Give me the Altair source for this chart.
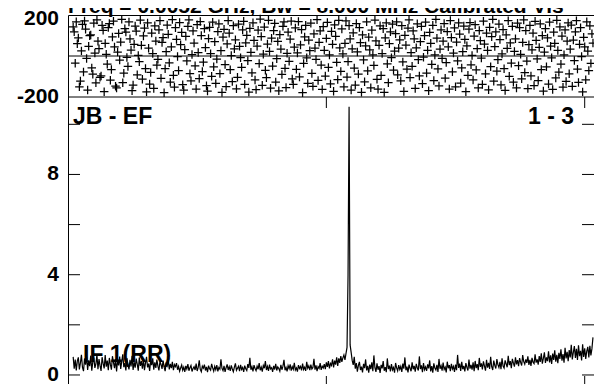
import altair as alt
import pandas as pd

# ---------------- data ----------------
title_text = "Freq = 0.0052 GHz, Bw = 8.000 MHz   Calibrated Vis"
baseline_label = "JB - EF"
stokes_label = "1 - 3"
if_label = "IF 1(RR)"

phase_vals = [
    142, 118, -35, 167, 60, 88, -150, -122, 25, 154, -78, 171, 131, -12, -166, 47, 99, 103, -58, -89, 160, 14, -131, 176,
    72, 36, -104, -97, 150, 125, -174, 61, 8, -40, 139, 158, -118, -66, 93, 170, 44, -147, -156, 19, 110, -20, 68, 179,
    -130, -84, 133, 117, -7, -51, 166, 84, 29, -169, -142, 57, 146, 121, -92, 3, -28, 175, 52, -113, 98, 136, -61, -175,
    161, 38, -137, -80, 112, 12, -158, 147, 73, -45, -16, 128, 172, -109, 66, 90, -179, -62, 21, 151, 106, -33, -128, 45,
    178, -94, -152, 138, 81, -3, -71, 163, 55, 115, -140, -167, 31, 96, -24, 144, 176, -86, -121, 7, 122, 63, -48, -161,
    153, 17, -110, 168, 100, -76, -30, 134, 41, -145, -171, 85, 140, 11, -99, 165, -53, 70, -134, -15, 119, 157, -86, 26,
    -178, 92, 130, -42, -149, 59, 173, 111, -67, 2, -125, 148, 35, 79, -160, -104, 155, 47, -8, -55, 127, 169, -138, 64,
    101, -23, -176, 135, 18, -82, 162, 76, -117, -164, 48, 126, -37, 180, 95, -143, 9, 141, -70, -106, 58, 174, 22, -157,
    87, -49, 124, 159, -127, -13, 71, -170, 104, 34, -90, 145, 166, -60, -154, 13, 116, -26, 82, 170, -112, -139, 43, 137,
    -65, 15, 168, -102, 54, 129, -179, -36, 93, 150, -9, -133, 77, 26, 160, -85, -148, 108, 39, -17, 177, -119, 67, 123,
    -44, -163, 143, 28, -98, 86, 164, -56, 5, -136, 120, 57, -172, 152, 96, -31, -115, 174, 40, -75, 132, 10, -151, 61,
    171, -103, -27, 148, 83, -166, 35, 113, -59, -142, 158, 20, -88, 139, 65, -177, 103, -19, -126, 49, 167, -72, 92, 30,
    -155, 126, 6, -46, 175, 74, -114, -162, 52, 147, -95, 12, 133, -178, 89, 162, -38, -130, 60, 118, -8, 155, -69, 24,
    109, 167, -92, 38, 79, -121, 148, -29, -173, 101, 53, -64, 136, 176, -105, 16, -50, 123, 84, -158, 40, 157, -18, -97,
    70, 144, -135, -6, 99, 165, -83, 28, -169, 115, 62, -41, 150, -120, 5, 179, 87, -63, -146, 34, 128, -11, 72, 158,
    -108, -32, 119, 45, -161, 173, 90, -77, 14, 137, -150, 68, -24, 162, 107, -132, -58, 21, 146, 81, -174, 50, -94, 131,
    163, -43, 3, -117, 97, 153, -68, 36, -156, 124, 75, -10, -139, 170, 58, -87, 112, 27, -165, 140, -52, 94, 179, -123,
    46, 118, -74, -18, 156, 80, -141, 10, 129, -62, -168, 103, 37, 172, -99, 64, -35, 145, -128, 22, 84, -156, 160, -47,
    138, 8, -111, 66, 176, -81, 124, -25, -159, 55, 149, -97, 30, 111, -144, 169, 76, -14, -120, 42, 157, -66, 100, -171,
    19, 134, -53, 88, -137, 165, 48, -9, -163, 116, 61, -107, 174, 27, -79, 142, -40, 97, -152, 6, 127, -124, 73, 161,
    -87, 33, 151, -148, 78, -22, 118, 172, -64, -129, 57, 138, -3, -175, 91, 45, -116, 167, 24, -71, 147, -36, 108, 63,
]
phase_first_channel = 5

amp_before = [
    0.72, 0.25, 0.61, 0.18, 0.55, 0.70, 0.22, 0.48, 0.80, 0.30, 0.15, 0.66, 0.41, 0.74, 0.20, 0.58, 0.35, 0.77, 0.17, 0.52, 0.69, 0.28, 0.44, 0.81,
    0.23, 0.63, 0.37, 0.16, 0.71, 0.46, 0.26, 0.79, 0.33, 0.57, 0.19, 0.68, 0.42, 0.21, 0.75, 0.50, 0.27, 0.64, 0.14, 0.59, 0.38, 0.73, 0.24, 0.53,
    0.82, 0.31, 0.47, 0.18, 0.67, 0.40, 0.22, 0.60, 0.34, 0.76, 0.20, 0.51, 0.29, 0.65, 0.43, 0.17, 0.70, 0.36, 0.55, 0.25, 0.62, 0.19, 0.48, 0.72,
    0.30, 0.45, 0.16, 0.58, 0.39, 0.66, 0.21, 0.50, 0.28, 0.61, 0.35, 0.18, 0.54, 0.42, 0.24, 0.57, 0.32, 0.15, 0.49, 0.37, 0.60, 0.22, 0.44, 0.27,
    0.52, 0.19, 0.41, 0.33, 0.47, 0.21,
    0.34, 0.15, 0.28, 0.40, 0.19, 0.31, 0.12, 0.36, 0.24, 0.43, 0.17, 0.29, 0.38, 0.14, 0.26, 0.33, 0.20, 0.45, 0.16, 0.30, 0.58, 0.22, 0.13, 0.35,
    0.27, 0.41, 0.18, 0.32, 0.11, 0.37, 0.25, 0.19, 0.44, 0.28, 0.15, 0.34, 0.21, 0.39, 0.14, 0.30, 0.23, 0.62, 0.26, 0.17, 0.36, 0.12, 0.29, 0.42,
    0.20, 0.33, 0.16, 0.38, 0.24, 0.13, 0.31, 0.46, 0.19, 0.27, 0.35, 0.15, 0.40, 0.22, 0.30, 0.12, 0.37, 0.25, 0.18, 0.43, 0.28, 0.68, 0.21, 0.33,
    0.14, 0.39, 0.26, 0.17, 0.35, 0.23, 0.47, 0.19, 0.31, 0.13, 0.38, 0.27, 0.55, 0.20, 0.34, 0.16, 0.41, 0.24, 0.29, 0.12, 0.36, 0.22, 0.44, 0.18,
    0.32, 0.26, 0.15, 0.40, 0.21, 0.35, 0.60, 0.19, 0.30, 0.14, 0.37, 0.25, 0.42, 0.17, 0.33, 0.23, 0.48, 0.20, 0.28, 0.13, 0.39, 0.26, 0.34, 0.18,
    0.45, 0.22, 0.31, 0.16, 0.52, 0.27, 0.36, 0.19, 0.41, 0.24, 0.30, 0.64, 0.21, 0.38, 0.15, 0.33, 0.26, 0.47, 0.20, 0.35, 0.28, 0.43, 0.23, 0.50,
    0.32, 0.55, 0.26, 0.46, 0.38, 0.62, 0.30, 0.57, 0.41, 0.70, 0.36, 0.66, 0.48, 0.75, 0.52, 0.68, 0.80, 0.60, 0.85,
]
amp_line = [1.10, 4.00, 10.70, 1.20, 0.90]
line_first_channel = 270
amp_after = [
    0.58, 0.40, 0.72, 0.25, 0.47, 0.13, 0.38, 0.52, 0.20, 0.33, 0.10, 0.44, 0.27, 0.62, 0.18, 0.36, 0.09, 0.41, 0.23, 0.50, 0.15, 0.78, 0.29, 0.12,
    0.46, 0.21, 0.35, 0.08, 0.40, 0.26, 0.55, 0.17, 0.31, 0.11, 0.66, 0.24, 0.37, 0.14, 0.43, 0.20, 0.30, 0.09, 0.48, 0.28, 0.16, 0.39, 0.22, 0.34,
    0.12, 0.45, 0.25, 0.70, 0.19, 0.33, 0.10, 0.41, 0.27, 0.15, 0.50, 0.23, 0.36, 0.13, 0.44, 0.29, 0.18, 0.74, 0.24, 0.38, 0.11, 0.47, 0.21, 0.32,
    0.16, 0.42, 0.26, 0.58, 0.14, 0.35, 0.09, 0.46, 0.28, 0.20, 0.40, 0.12, 0.64, 0.25, 0.37, 0.17, 0.49, 0.22, 0.31, 0.10, 0.53, 0.27, 0.39, 0.15,
    0.44, 0.24, 0.34, 0.12, 0.41, 0.19, 0.80, 0.28, 0.45, 0.16, 0.52, 0.23, 0.36, 0.14, 0.47, 0.30, 0.18, 0.61, 0.25, 0.40, 0.21, 0.50, 0.15, 0.56,
    0.27, 0.43, 0.19, 0.68, 0.32, 0.46, 0.22, 0.54, 0.35, 0.17, 0.60, 0.29, 0.48, 0.24, 0.72, 0.33, 0.20, 0.57, 0.38, 0.26, 0.63, 0.41, 0.30, 0.52,
    0.23, 0.66, 0.36, 0.28, 0.58, 0.44, 0.31, 0.76, 0.39, 0.55, 0.27, 0.64, 0.47, 0.33, 0.70, 0.42, 0.59, 0.35, 0.67, 0.50, 0.38, 0.79, 0.53, 0.43,
    0.62, 0.48, 0.74, 0.40, 0.60, 0.36, 0.68, 0.51, 0.45, 0.82, 0.49,
    0.62, 0.41, 0.75, 0.52, 0.86, 0.45, 0.66, 0.90, 0.48, 0.70, 0.55, 0.94, 0.50, 0.78, 0.44, 0.85, 0.60, 0.98, 0.53, 0.80, 0.47, 0.88, 0.64, 1.02,
    0.57, 0.83, 0.49, 1.08, 0.66, 0.92, 0.55, 0.99, 0.70, 1.20, 0.62, 0.90, 1.15, 0.68, 1.04, 0.60, 1.18, 0.75, 0.96, 0.58, 1.22, 0.72, 1.06, 0.64,
    0.95, 1.12, 0.70, 1.16, 0.78, 1.05, 1.50,
]

amp_label_values = [0, 4, 8]
amp_tick_values = [0, 2, 4, 6, 8, 10]
chan_major_ticks = [250, 500]

# ---------------- tables ----------------
df_phase = pd.DataFrame({
    "ch": list(range(phase_first_channel, phase_first_channel + len(phase_vals))),
    "phase": phase_vals,
})
amp_all = amp_before + amp_line + amp_after
amp_start = line_first_channel - len(amp_before)
df_amp = pd.DataFrame({"ch": list(range(amp_start, amp_start + len(amp_all))), "amp": amp_all})
df_alab = pd.DataFrame({"v": amp_label_values, "t": [str(v) for v in amp_label_values]})
df_atick = pd.DataFrame({"v": amp_tick_values})
df_xt = pd.DataFrame({"c": chan_major_ticks})

# ---------------- layout ----------------
# page must not be wider than the window (8px margins on both sides)
W, H = 526, 371
TOP_H = 82
FONT = "Liberation Sans"

xs = alt.Scale(domain=[0, 509], nice=False, zero=False)
ps = alt.Scale(domain=[-200, 200], range=[TOP_H, 0], nice=False, zero=False)
ams = alt.Scale(domain=[-0.44, 11.09], range=[H, TOP_H], nice=False, zero=False)

plus = "M-1,0L1,0M0,-1L0,1"

points = alt.Chart(df_phase).mark_point(
    shape=plus, size=72, filled=False, stroke="#000000", strokeWidth=1.25, opacity=1
).encode(
    x=alt.X("ch:Q", scale=xs, axis=None),
    y=alt.Y("phase:Q", scale=ps, axis=None),
)

def plabel(v, dy):
    return alt.Chart(pd.DataFrame({"v": [v], "t": [str(v)]})).mark_text(
        align="right", baseline="middle", font=FONT, fontSize=21, fontWeight="bold",
        color="black", dy=dy
    ).encode(
        x=alt.value(-9),
        y=alt.Y("v:Q", scale=ps, axis=None),
        text="t:N",
    )

phase_layer = alt.layer(points, plabel(200, 4), plabel(-200, 0))

amp_line_mark = alt.Chart(df_amp).mark_line(color="black", strokeWidth=1.2).encode(
    x=alt.X("ch:Q", scale=xs, axis=None),
    y=alt.Y("amp:Q", scale=ams, axis=None),
)
alabels = alt.Chart(df_alab).mark_text(
    align="right", baseline="middle", font=FONT, fontSize=21, fontWeight="bold", color="black"
).encode(
    x=alt.value(-9),
    y=alt.Y("v:Q", scale=ams, axis=None),
    text="t:N",
)
lticks = alt.Chart(df_atick).mark_rule(color="black", strokeWidth=1).encode(
    x=alt.value(0), x2=alt.value(12),
    y=alt.Y("v:Q", scale=ams, axis=None),
)
rticks = alt.Chart(df_atick).mark_rule(color="black", strokeWidth=1).encode(
    x=alt.value(W - 12), x2=alt.value(W),
    y=alt.Y("v:Q", scale=ams, axis=None),
)
amp_layer = alt.layer(amp_line_mark, alabels, lticks, rticks)

sep = alt.Chart(pd.DataFrame({"a": [0]})).mark_rule(color="black", strokeWidth=1).encode(
    y=alt.value(TOP_H)
)
zero_line = alt.Chart(pd.DataFrame({"a": [0]})).mark_rule(color="black", strokeWidth=1).encode(
    y=alt.value(TOP_H / 2)
)
xt_mid = alt.Chart(df_xt).mark_rule(color="black", strokeWidth=1).encode(
    x=alt.X("c:Q", scale=xs, axis=None), y=alt.value(TOP_H), y2=alt.value(TOP_H + 11)
)
xt_bot = alt.Chart(df_xt).mark_rule(color="black", strokeWidth=1).encode(
    x=alt.X("c:Q", scale=xs, axis=None), y=alt.value(H - 10), y2=alt.value(H)
)

def label(txt, x, y, align, baseline, size):
    return alt.Chart(pd.DataFrame({"t": [txt]})).mark_text(
        align=align, baseline=baseline, font=FONT, fontSize=size, fontWeight="bold", color="black"
    ).encode(x=alt.value(x), y=alt.value(y), text="t:N")

title = label(title_text, 0, -2, "left", "alphabetic", 21)
bl = label(baseline_label, 5, 102, "left", "middle", 23)
st = label(stokes_label, 506, 102, "right", "middle", 23)
ifl = label(if_label, 15, 347, "left", "alphabetic", 23)

chart = alt.layer(
    phase_layer, amp_layer, sep, zero_line, xt_mid, xt_bot, title, bl, st, ifl
).resolve_scale(y="independent").properties(
    width=W, height=H,
    autosize=alt.AutoSizeParams(type="none"),
    padding={"left": 60, "top": 7, "right": 0, "bottom": 0},
    background="white",
).configure_view(stroke="black", strokeWidth=1)

chart.save("out.html", embed_options={"renderer": "svg", "actions": False})
